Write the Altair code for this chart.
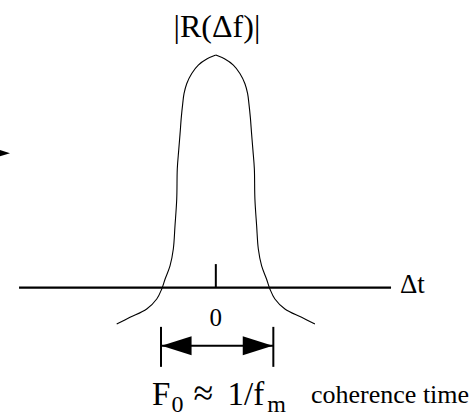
import altair as alt
import pandas as pd

# |R| profile against delay offset (dt in units of the coherence width),
# traced as a left flank and a right flank that meet at the peak
left_dt = [-1.770, -1.532, -1.234, -1.055, -0.966, -0.907, -0.818, -0.759, -0.729,
           -0.698, -0.688, -0.663, -0.639, -0.616, -0.591, -0.568, -0.520, -0.430,
           -0.313, -0.162, 0.0]
left_r = [-0.157, -0.128, -0.092, -0.049, -0.006, 0.036, 0.093, 0.166, 0.266,
          0.381, 0.511, 0.590, 0.661, 0.733, 0.791, 0.834, 0.877, 0.921,
          0.957, 0.983, 1.0]
right_dt = [0.0, 0.162, 0.313, 0.430, 0.520, 0.568, 0.591, 0.616, 0.639, 0.663,
            0.688, 0.698, 0.729, 0.759, 0.818, 0.907, 0.966, 1.055, 1.234, 1.532,
            1.770]
right_r = [1.0, 0.983, 0.957, 0.921, 0.877, 0.834, 0.791, 0.733, 0.661, 0.590,
           0.511, 0.381, 0.266, 0.166, 0.093, 0.036, -0.006, -0.049, -0.092, -0.128,
           -0.157]

# horizontal axis extent and the zero tick
axis_dt = [-3.514, 3.129]
tick_len = 0.101

# coherence-width bracket (left and right ends)
bracket_dt = [-0.979, 1.027]
bracket_r = [-0.169, -0.341]
shaft_r = -0.25

# incoming arrow at the left edge
incoming_tip = (-3.675, 0.578)

FONT = "Liberation Serif"

curve_df = pd.concat([
    pd.DataFrame({"dt": left_dt, "r": left_r, "side": "left", "k": range(len(left_dt))}),
    pd.DataFrame({"dt": right_dt, "r": right_r, "side": "right", "k": range(len(right_dt))}),
])

xs = alt.Scale(domain=[-3.854, 4.539], nice=False, zero=False)
ys = alt.Scale(domain=[-0.561, 1.237], nice=False, zero=False)
X = lambda f: alt.X(f, type="quantitative", scale=xs, axis=None)
Y = lambda f: alt.Y(f, type="quantitative", scale=ys, axis=None)

curve = alt.Chart(curve_df).mark_line(
    color="black", strokeWidth=1.1, interpolate="catmull-rom"
).encode(x=X("dt"), y=Y("r"), detail="side:N", order="k:Q")

axis_line = alt.Chart(pd.DataFrame({"a": [axis_dt[0]], "b": [axis_dt[1]], "r": [0.0]})).mark_rule(
    color="black", strokeWidth=2.4
).encode(x=X("a"), x2="b", y=Y("r"))

tick = alt.Chart(pd.DataFrame({"dt": [0.0], "r0": [0.0], "r1": [tick_len]})).mark_rule(
    color="black", strokeWidth=2
).encode(x=X("dt"), y=Y("r0"), y2="r1")

bars = alt.Chart(pd.DataFrame({"dt": bracket_dt, "r0": [bracket_r[0]] * 2, "r1": [bracket_r[1]] * 2})).mark_rule(
    color="black", strokeWidth=2
).encode(x=X("dt"), y=Y("r0"), y2="r1")

shaft = alt.Chart(pd.DataFrame({"a": [bracket_dt[0]], "b": [bracket_dt[1]], "r": [shaft_r]})).mark_rule(
    color="black", strokeWidth=2
).encode(x=X("a"), x2="b", y=Y("r"))

LEFT_HEAD = "M0,0L2,-0.63L2,0.63Z"
RIGHT_HEAD = "M0,0L-2,-0.63L-2,0.63Z"

heads_df = pd.DataFrame({
    "dt": [bracket_dt[0] + 0.01, bracket_dt[1] - 0.01, incoming_tip[0]],
    "r": [shaft_r, shaft_r, incoming_tip[1]],
    "dir": ["L", "R", "R"],
})
heads = alt.Chart(heads_df).mark_point(
    filled=True, color="black", opacity=1, size=900, strokeWidth=0
).encode(
    x=X("dt"), y=Y("r"),
    shape=alt.Shape("dir:N", scale=alt.Scale(domain=["L", "R"], range=[LEFT_HEAD, RIGHT_HEAD]), legend=None),
)

def label(text, dt, r, size, align="center"):
    return alt.Chart(pd.DataFrame({"dt": [dt], "r": [r], "t": [text]})).mark_text(
        font=FONT, fontSize=size, align=align, baseline="alphabetic", color="black"
    ).encode(x=X("dt"), y=Y("r"), text="t:N")

texts = [
    label("|R(\u0394f)|", 0.02, 1.079, 32),
    label("\u0394t", 3.289, -0.024, 27, "left"),
    label("0", 0.0, -0.166, 25),
    label("F", -1.139, -0.505, 33, "left"),
    label("0", -0.79, -0.535, 24, "left"),
    label("\u2248", -0.40, -0.505, 36, "left"),
    label("1/f", 0.21, -0.505, 33, "left"),
    label("m", 0.92, -0.535, 24, "left"),
    label("coherence time", 1.70, -0.497, 26, "left"),
]

chart = alt.layer(curve, axis_line, tick, bars, shaft, heads, *texts).properties(
    width=470, height=418, padding=0, autosize=alt.AutoSizeParams(type="none"),
    background="white",
).configure_view(stroke=None)

chart.save("out.html", embed_options={"renderer": "svg", "actions": False})
